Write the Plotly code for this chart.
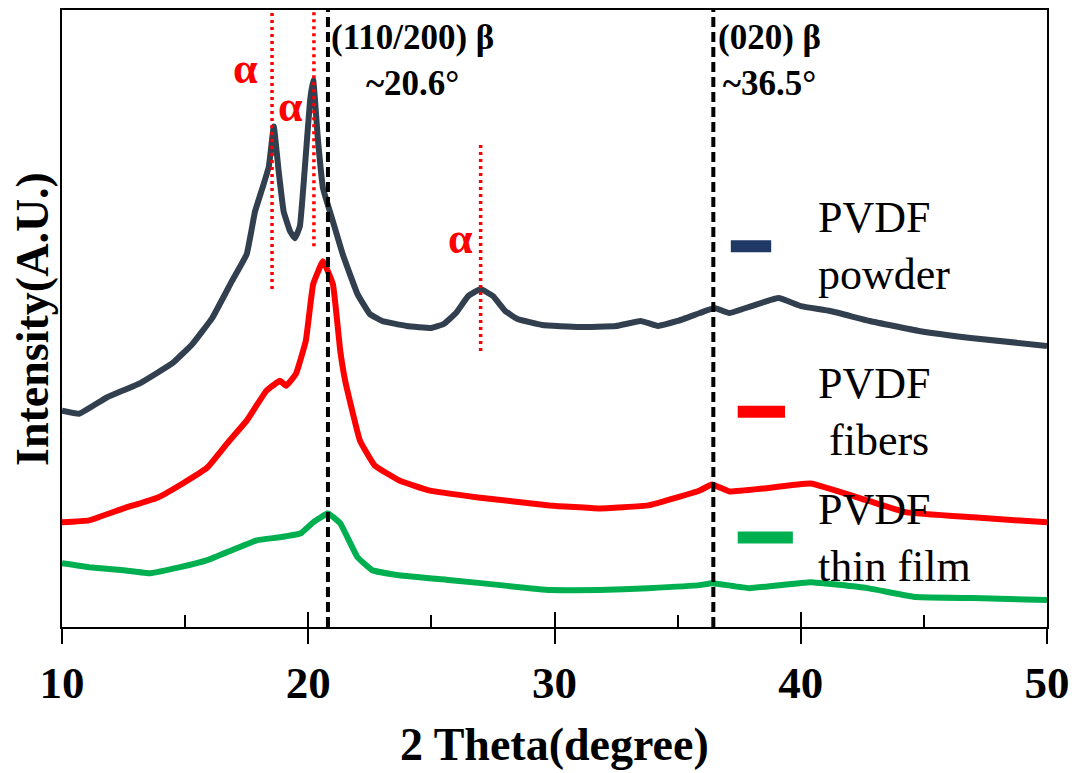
import plotly.graph_objects as go

# ---- XRD patterns (2θ in degrees, intensity in arbitrary units, already offset) ----
powder_2theta = [10, 10.7, 11.8, 13.2, 14.5, 15.3, 16.1, 16.9, 17.5, 17.84, 18.16, 18.4,
                 18.6, 18.8, 19.0, 19.26, 19.46, 19.66, 19.85, 20.07, 20.2, 20.4, 20.6,
                 21.0, 21.4, 22.0, 22.5, 23.0, 24.0, 25.0, 25.5, 26.0, 26.5, 27.0, 27.5,
                 28.0, 28.5, 29.5, 31.0, 32.5, 33.5, 34.2, 35.0, 35.9, 36.5, 37.1, 38.0,
                 39.1, 40.0, 41.2, 42.8, 44.8, 46.9, 50]
powder_int = [217, 214, 230, 245, 265, 284, 310, 347, 374, 417, 442, 462,
              502, 457, 417, 397, 390, 402, 457, 527, 549, 487, 440,
              407, 374, 334, 314, 307, 302, 300, 304, 315, 332, 339, 332,
              317, 309, 303, 301, 302, 307, 302, 307, 315, 320, 315, 322,
              330, 322, 317, 307, 297, 290, 282]

fibers_2theta = [10, 11.1, 12.5, 13.9, 14.9, 15.9, 16.7, 17.5, 18.3, 18.85, 19.1, 19.5,
                 19.9, 20.2, 20.6, 21.0, 21.3, 21.5, 22.1, 22.7, 23.7, 24.9, 26.9, 29.8,
                 31.8, 33.8, 35.9, 36.4, 37.1, 38.5, 40.4, 42.7, 44.3, 47.0, 50]
fibers_int = [105, 107, 119, 130, 144, 160, 184, 207, 237, 247, 242, 254,
              287, 344, 367, 344, 277, 247, 187, 162, 147, 137, 130, 122,
              119, 122, 137, 143, 136, 139, 144, 127, 115, 110, 105]

film_2theta = [10, 11.1, 12.5, 13.6, 14.8, 15.9, 16.9, 17.9, 18.85, 19.7, 20.2, 20.8,
               21.3, 22.0, 22.6, 23.7, 25.8, 27.8, 29.8, 31.8, 33.8, 35.9, 36.4, 37.9,
               40.4, 42.7, 44.7, 47.0, 50]
film_int = [64, 60, 57, 54, 60, 67, 77, 87, 90, 94, 105, 114,
            104, 70, 57, 52, 47, 42, 37, 37, 39, 42, 44, 39,
            45, 39, 30, 29, 27]

series_names = ["PVDF<br>powder", "PVDF<br>\u00a0fibers", "PVDF<br>thin film"]

# reflection markers
alpha_peaks = [18.53, 20.23, 27.0]
beta_peaks = [20.8, 36.45]
beta_labels = ["(110/200) β<br>~20.6°", "(020) β<br>~36.5°"]

x_ticks = [10, 20, 30, 40, 50]

# ---- styling ----
FONT = "Times New Roman, Liberation Serif, serif"
C_POWDER = "#323F4F"
C_POWDER_KEY = "#203864"
C_FIBERS = "#FF0000"
C_FILM = "#00B050"
Y_MAX = 619

fig = go.Figure()
for xs, ys, col in [(powder_2theta, powder_int, C_POWDER),
                    (fibers_2theta, fibers_int, C_FIBERS),
                    (film_2theta, film_int, C_FILM)]:
    fig.add_trace(go.Scatter(x=xs, y=ys, mode="lines", showlegend=False,
                             line=dict(color=col, width=6, shape="spline", smoothing=0.3)))

# invisible trace holding the inner-tick axis
fig.add_trace(go.Scatter(x=[10, 50], y=[None, None], xaxis="x2", mode="lines",
                         showlegend=False, hoverinfo="skip"))

shapes = []
# red dotted alpha lines: (bottom, top) in intensity units
alpha_spans = [(339, 617), (382, 617), (277, 487)]
for xv, (y0, y1) in zip(alpha_peaks, alpha_spans):
    shapes.append(dict(type="line", xref="x", yref="y", x0=xv, x1=xv, y0=y0, y1=y1,
                       line=dict(color="#FF0000", width=3.5, dash="3px,4px")))
for xv in beta_peaks:
    shapes.append(dict(type="line", xref="x", yref="paper", x0=xv, x1=xv, y0=0, y1=1,
                       line=dict(color="black", width=4, dash="10px,5px")))

# legend keys (paper coordinates of the plot area)
key_rows = [(0.679, 0.720, 0.617, C_POWDER_KEY),
            (0.686, 0.734, 0.349, C_FIBERS),
            (0.686, 0.742, 0.145, C_FILM)]
for x0, x1, yk, col in key_rows:
    shapes.append(dict(type="line", xref="paper", yref="paper", x0=x0, x1=x1, y0=yk, y1=yk,
                       line=dict(color=col, width=12)))

annotations = []
# alpha labels
alpha_label_pos = [(17.45, 560), (19.28, 522), (26.2, 390)]
for xv, yv in alpha_label_pos:
    annotations.append(dict(x=xv, y=yv, xref="x", yref="y", text="<b>α</b>", showarrow=False,
                            font=dict(family=FONT, size=44, color="#FF0000")))
# beta labels
for xv, txt, xs in zip(beta_peaks, beta_labels, [1, 3]):
    annotations.append(dict(x=xv, y=0.99, xref="x", yref="paper", text="<b>" + txt + "</b>",
                            xanchor="left", yanchor="top", align="center", xshift=xs,
                            showarrow=False, font=dict(family=FONT, size=35, color="black")))
# legend text
for (x0, x1, yk, col), name in zip(key_rows, series_names):
    annotations.append(dict(x=0.765, y=yk, xref="paper", yref="paper", text=name,
                            xanchor="left", yanchor="middle", align="left", showarrow=False,
                            font=dict(family=FONT, size=44, color="black")))
# axis titles
annotations.append(dict(x=0.5, y=-0.19, xref="paper", yref="paper",
                        text="<b>2 Theta(degree)</b>", showarrow=False,
                        xanchor="center", yanchor="middle",
                        font=dict(family=FONT, size=46, color="black")))
annotations.append(dict(x=-0.03, y=0.5, xref="paper", yref="paper",
                        text="<b>Intensity(A.U.)</b>", showarrow=False, textangle=-90,
                        xanchor="center", yanchor="middle",
                        font=dict(family=FONT, size=46, color="black")))

fig.update_layout(
    width=1078, height=773,
    margin=dict(l=62, r=31, t=8, b=146),
    paper_bgcolor="white", plot_bgcolor="white",
    showlegend=False,
    xaxis=dict(range=[10, 50], tickvals=x_ticks, ticks="outside", ticklen=15,
               tickwidth=1.5, tickcolor="black", showgrid=False, zeroline=False,
               showline=True, linecolor="black", linewidth=2, mirror=True,
               ticklabelstandoff=0,
               tickfont=dict(family=FONT, size=45, color="black", weight="bold")),
    xaxis2=dict(range=[10, 50], overlaying="x", anchor="y", side="bottom",
                tickvals=x_ticks, ticks="inside", ticklen=15, tickwidth=1.5,
                tickcolor="black", showticklabels=False, showgrid=False, zeroline=False,
                minor=dict(dtick=5, tick0=0, ticks="inside", ticklen=12, tickwidth=1.5,
                           tickcolor="black", showgrid=False)),
    yaxis=dict(range=[0, Y_MAX], showticklabels=False, ticks="", showgrid=False,
               zeroline=False, showline=True, linecolor="black", linewidth=1.5, mirror=True),
    shapes=shapes,
    annotations=annotations,
)

fig.write_html("out.html")
